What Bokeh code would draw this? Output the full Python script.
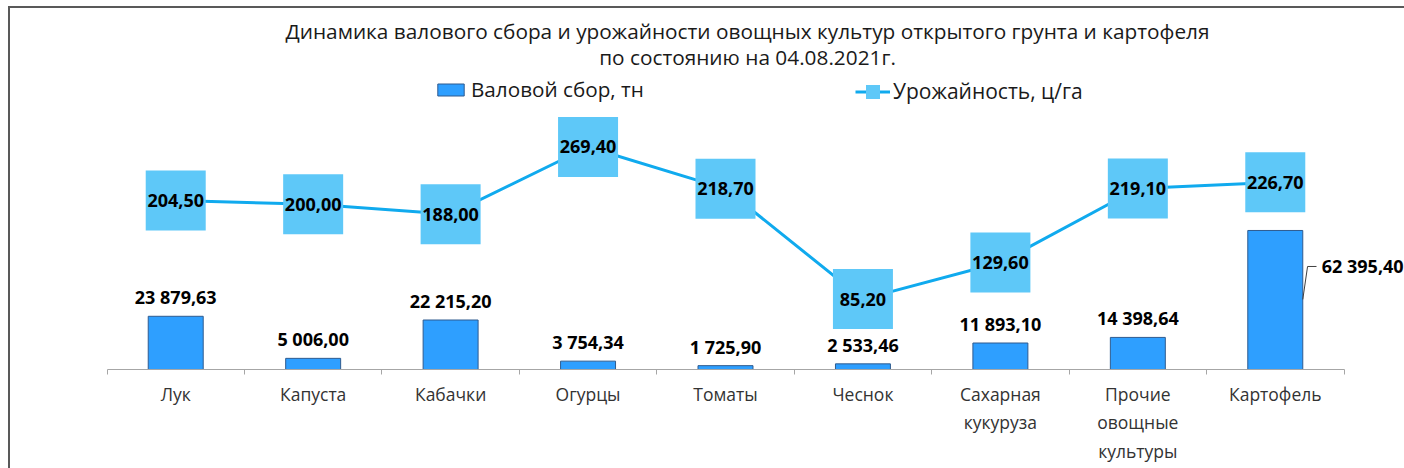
from bokeh.plotting import figure
from bokeh.models import (Range1d, FixedTicker, Legend, LegendItem, Label,
                          ColumnDataSource)
from bokeh.core.properties import value
from bokeh.embed import file_html
from bokeh.resources import INLINE

# ---- data ----
categories = ["Лук", "Капуста", "Кабачки", "Огурцы", "Томаты", "Чеснок",
              "Сахарная\nкукуруза", "Прочие\nовощные\nкультуры", "Картофель"]
gross_harvest = [23879.63, 5006.00, 22215.20, 3754.34, 1725.90, 2533.46,
                 11893.10, 14398.64, 62395.40]
yield_cwt = [204.50, 200.00, 188.00, 269.40, 218.70, 85.20, 129.60, 219.10, 226.70]

title_1 = "Динамика валового сбора и урожайности овощных культур открытого грунта и картофеля"
title_2 = "по состоянию на 04.08.2021г."
bar_name = "Валовой сбор, тн"
line_name = "Урожайность, ц/га"


def fmt(v):
    return f"{v:,.2f}".replace(",", " ").replace(".", ",")


# ---- layout constants ----
W, H = 1404, 468
AXIS_LEFT = 106.5                        # canvas x of first category boundary
CAT_W = 1237 / 9                          # px per category
BASE_Y = 369                              # canvas y of the baseline
FB = H - BASE_Y
px_per_t = 0.002228                       # primary scale (px per tonne)
px_per_c = 0.826                          # secondary scale (px per c/ha)

FONT = value("Open Sans")
BAR_FILL = "#2E9FFF"
BAR_LINE = "#2F5B8F"
MARK_FILL = "#5EC8F8"
LINE_COL = "#10AAEE"
AXIS_COL = "#A6A6A6"
BORDER = "#595959"

n = len(categories)
centers = [i + 0.5 for i in range(n)]
x0 = -AXIS_LEFT / CAT_W
x1 = x0 + W / CAT_W
y_top = BASE_Y / px_per_t

p = figure(width=W, height=H, output_backend="svg", toolbar_location=None,
           y_axis_location=None,
           x_range=Range1d(x0, x1), y_range=Range1d(0, y_top),
           min_border_left=0, min_border_right=0, min_border_top=0,
           min_border_bottom=FB, outline_line_color=None,
           background_fill_color=None, border_fill_color=None)
p.extra_y_ranges = {"y2": Range1d(0, BASE_Y / px_per_c)}

# chart border (top and left edges) drawn behind the transparent canvas
p.styles = {
    "background": (f"linear-gradient({BORDER},{BORDER}) 8px 6px / 2px 100% no-repeat, "
                   f"linear-gradient({BORDER},{BORDER}) 8px 6px / 100% 2px no-repeat, "
                   "white"),
}

p.xgrid.visible = False
p.ygrid.visible = False

ax = p.xaxis[0]
ax.bounds = (0, n)
ax.ticker = FixedTicker(ticks=centers, minor_ticks=list(range(n + 1)))
ax.major_label_overrides = {c: lab for c, lab in zip(centers, categories)}
ax.axis_line_color = AXIS_COL
ax.axis_line_width = 1
ax.major_tick_line_color = None
ax.major_tick_out = 0
ax.major_tick_in = 0
ax.minor_tick_line_color = AXIS_COL
ax.minor_tick_out = 5
ax.minor_tick_in = 0
ax.major_label_standoff = 7
ax.major_label_text_font = "Open Sans"
ax.major_label_text_font_size = "17.5px"
ax.major_label_text_color = "#333333"

# ---- bars ----
src = ColumnDataSource(dict(x=centers, top=gross_harvest))
bars = p.vbar(x="x", top="top", width=0.4, source=src, fill_color=BAR_FILL,
              line_color=BAR_LINE, line_width=1)

lab_src = ColumnDataSource(dict(x=centers[:-1], y=gross_harvest[:-1],
                                lab=[fmt(v) for v in gross_harvest[:-1]]))
p.text(x="x", y="y", text="lab", source=lab_src, text_font=FONT,
       text_font_style="bold", text_font_size="18px", text_color="black",
       text_align="center", text_baseline="middle", y_offset=-19)

# last bar label placed to the right with a leader line
last_x = centers[-1] + 0.2
last_v = gross_harvest[-1]
y_a = last_v - 69 / px_per_t
y_b = last_v - 36 / px_per_t
p.line(x=[last_x, last_x + 0.035, last_x + 0.1], y=[y_a, y_b, y_b],
       line_color="#404040", line_width=1)
p.add_layout(Label(x=last_x, y=last_v, x_offset=19, y_offset=-36,
                   text=fmt(last_v), text_font="Open Sans",
                   text_font_style="bold", text_font_size="18px",
                   text_color="black", text_align="left",
                   text_baseline="middle"))

# ---- line with square markers ----
lsrc = ColumnDataSource(dict(x=centers, y=yield_cwt,
                             lab=[fmt(v) for v in yield_cwt]))
ln = p.line(x="x", y="y", source=lsrc, y_range_name="y2",
            line_color=LINE_COL, line_width=3)
mk = p.scatter(x="x", y="y", source=lsrc, y_range_name="y2", marker="square",
               size=60, fill_color=MARK_FILL, line_color=None)
p.text(x="x", y="y", text="lab", source=lsrc, y_range_name="y2",
       text_font=FONT, text_font_style="bold", text_font_size="18px",
       text_color="black", text_align="center", text_baseline="middle")

# ---- legends ----
leg1 = Legend(items=[LegendItem(label=bar_name, renderers=[bars])],
              location=(434, BASE_Y - 103), orientation="horizontal",
              glyph_width=33, glyph_height=15, label_standoff=4,
              label_text_font="Open Sans", label_text_font_size="20.7px",
              label_text_color="#1a1a1a", padding=0, margin=0, spacing=0,
              border_line_color=None, background_fill_alpha=0)
leg2 = Legend(items=[LegendItem(label=line_name, renderers=[ln, mk])],
              location=(855, BASE_Y - 108.5), orientation="horizontal",
              glyph_width=35, glyph_height=35, label_standoff=3,
              label_text_font="Open Sans", label_text_font_size="21px",
              label_text_color="#1a1a1a", padding=0, margin=0, spacing=0,
              border_line_color=None, background_fill_alpha=0)
p.add_layout(leg1, "center")
p.add_layout(leg2, "center")

# ---- title ----
for txt, yy in ((title_1, BASE_Y - 30), (title_2, BASE_Y - 56)):
    p.add_layout(Label(x=747, y=yy, x_units="screen", y_units="screen",
                       text=txt, text_font="Open Sans", text_font_size="20.8px",
                       text_color="#1a1a1a", text_align="center",
                       text_baseline="middle"))

open("out.html", "w").write(file_html(p, INLINE))
